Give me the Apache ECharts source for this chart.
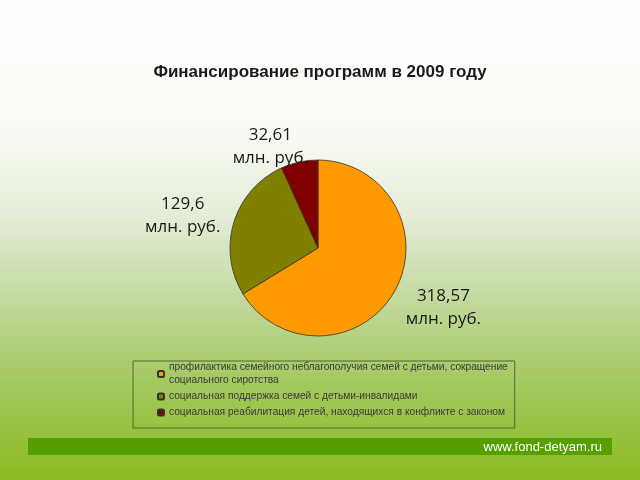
<!DOCTYPE html>
<html><head><meta charset="utf-8">
<script src="https://cdn.jsdelivr.net/npm/echarts@6/dist/echarts.min.js"></script>
<style>html,body{margin:0;padding:0;background:#fff;} #c{width:640px;height:480px;}</style>
</head><body><div id="c"></div>
<script>
const chartTitle = 'Финансирование программ в 2009 году';
const categories = [
  'профилактика семейного неблагополучия семей с детьми, сокращение\nсоциального сиротства',
  'социальная поддержка семей с детьми-инвалидами',
  'социальная реабилитация детей, находящихся в конфликте с законом'
];
const values = [318.57, 129.6, 32.61];
const unit = 'млн. руб.';
const colors = ['#FF9900', '#808000', '#800000'];
const footerText = 'www.fond-detyam.ru';

// label placement (style): radial distance and angle tweak (degrees)
const labelDist = [139, 139, 112];
const labelAngleAdj = [-3.7, -3.7, -13];
const CX = 318, CY = 248, R = 88;

const total = values.reduce((a, b) => a + b, 0);
const midAngles = [];
let acc = 0;
values.forEach(v => { midAngles.push((acc + v / 2) / total * 360); acc += v; });

const chart = echarts.init(document.getElementById('c'), null, {renderer: 'canvas'});
chart.setOption({
  animation: false,
  color: colors,
  graphic: [
    {type: 'rect', z: -10, silent: true, shape: {x: 0, y: 0, width: 640, height: 480},
     style: {fill: new echarts.graphic.LinearGradient(0, 0, 0, 1, [
       {offset: 0, color: '#ffffff'},
       {offset: 0.25, color: '#fbfcf7'},
       {offset: 0.45, color: '#e4edd8'},
       {offset: 0.62, color: '#c3d99f'},
       {offset: 0.8, color: '#a3c85e'},
       {offset: 1, color: '#8bba22'}
     ])}},
    {type: 'rect', z: -5, silent: true, shape: {x: 28, y: 438, width: 584, height: 17},
     style: {fill: '#55a000'}},
    {type: 'text', z: -4, silent: true, x: 602, y: 447,
     style: {text: footerText, fill: '#ffffff', font: '13px "Liberation Sans", Arial, sans-serif',
       textAlign: 'right', textVerticalAlign: 'middle'}}
  ],
  title: {
    text: chartTitle, left: 'center', top: 59,
    textStyle: {fontFamily: '"Liberation Sans", Arial, sans-serif', fontSize: 17, fontWeight: 'bold', color: '#1a1a1a'}
  },
  legend: {
    orient: 'vertical', left: 133, top: 361,
    padding: [0, 7, 9, 24],
    itemGap: 3, itemWidth: 6, itemHeight: 6,
    borderColor: '#4d6b2a', borderWidth: 1,
    selectedMode: false,
    data: categories,
    textStyle: {fontFamily: '"Liberation Sans", Arial, sans-serif', fontSize: 10.2, color: '#3a3a3a', lineHeight: 13, width: 335}
  },
  series: [{
    type: 'pie',
    center: [CX, CY], radius: R,
    startAngle: 90, clockwise: true,
    itemStyle: {borderColor: '#333', borderWidth: 0.8},
    label: {
      show: true, position: 'outside',
      formatter: p => String(p.value).replace('.', ',') + '\n' + unit,
      fontFamily: '"Open Sans", "Liberation Sans", Arial, sans-serif', fontSize: 17, fontWeight: 500, color: '#1a1a1a', lineHeight: 23, align: 'center'
    },
    labelLine: {show: false},
    labelLayout: function (params) {
      const i = params.dataIndex;
      const a = (midAngles[i] + labelAngleAdj[i]) * Math.PI / 180;
      return {x: CX + labelDist[i] * Math.sin(a), y: CY - labelDist[i] * Math.cos(a), align: 'center', verticalAlign: 'middle'};
    },
    data: categories.map((c, i) => ({name: c, value: values[i]}))
  }]
});
</script>
</body></html>
